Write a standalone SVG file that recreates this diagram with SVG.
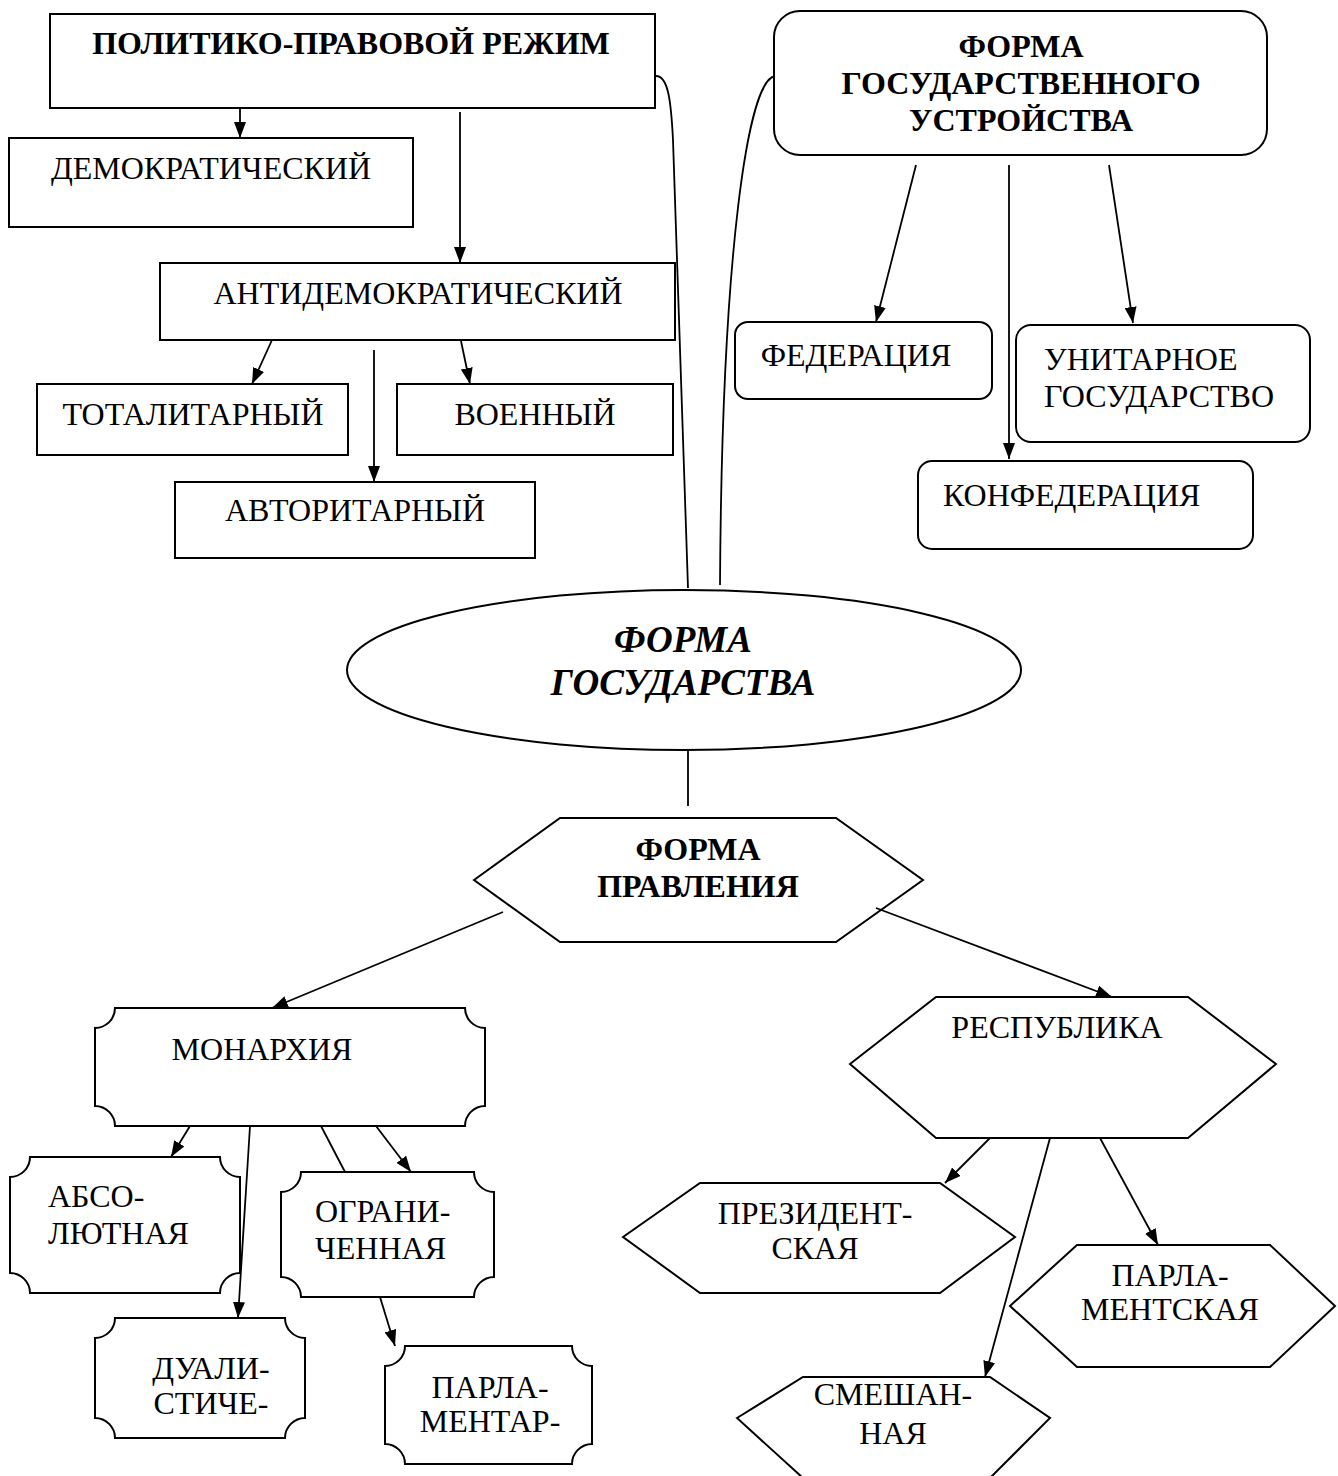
<svg xmlns="http://www.w3.org/2000/svg" width="1338" height="1476" viewBox="0 0 1338 1476">
<style>
.box{fill:#fff;stroke:#000;stroke-width:2}
.t{font-family:"Liberation Serif","Times New Roman",serif;font-size:32px;fill:#000}
.b{font-weight:bold}
.bi{font-weight:bold;font-style:italic;font-size:37px}
.m{text-anchor:middle}
.c{fill:none;stroke:#000;stroke-width:1.8}
.a{fill:none;stroke:#000;stroke-width:1.8;marker-end:url(#ah)}
</style>
<defs>
<marker id="ah" markerUnits="userSpaceOnUse" markerWidth="16" markerHeight="12" refX="16" refY="6" orient="auto">
<path d="M0,0 L16,6 L0,12 z" fill="#000"/>
</marker>
</defs>
<rect width="1338" height="1476" fill="#fff"/>

<g id="n-regime">
<rect class="box" x="50" y="14" width="605" height="94"/>
<text class="t b m" x="351" y="54">ПОЛИТИКО-ПРАВОВОЙ РЕЖИМ</text>
</g>
<g id="n-demo">
<rect class="box" x="9" y="138" width="404" height="89"/>
<text class="t m" x="211" y="179">ДЕМОКРАТИЧЕСКИЙ</text>
</g>
<g id="n-antidemo">
<rect class="box" x="160" y="263" width="515" height="77"/>
<text class="t m" x="418" y="304">АНТИДЕМОКРАТИЧЕСКИЙ</text>
</g>
<g id="n-total">
<rect class="box" x="37" y="384" width="311" height="71"/>
<text class="t m" x="193" y="425">ТОТАЛИТАРНЫЙ</text>
</g>
<g id="n-mil">
<rect class="box" x="397" y="384" width="276" height="71"/>
<text class="t m" x="535" y="425">ВОЕННЫЙ</text>
</g>
<g id="n-auth">
<rect class="box" x="175" y="482" width="360" height="76"/>
<text class="t m" x="355" y="521">АВТОРИТАРНЫЙ</text>
</g>

<g id="n-ustr">
<rect class="box" x="774" y="11" width="493" height="144" rx="26"/>
<text class="t b m" x="1021" y="57">ФОРМА</text>
<text class="t b m" x="1021" y="94">ГОСУДАРСТВЕННОГО</text>
<text class="t b m" x="1021" y="131">УСТРОЙСТВА</text>
</g>
<g id="n-fed">
<rect class="box" x="735" y="322" width="257" height="77" rx="13"/>
<text class="t m" x="856" y="366">ФЕДЕРАЦИЯ</text>
</g>
<g id="n-unit">
<rect class="box" x="1016" y="325" width="294" height="117" rx="15"/>
<text class="t" x="1044" y="370">УНИТАРНОЕ</text>
<text class="t" x="1044" y="407">ГОСУДАРСТВО</text>
</g>
<g id="n-conf">
<rect class="box" x="918" y="461" width="335" height="88" rx="14"/>
<text class="t" x="943" y="506">КОНФЕДЕРАЦИЯ</text>
</g>

<g id="n-state">
<ellipse class="box" cx="684" cy="670" rx="337" ry="80"/>
<text class="t bi m" x="683" y="652">ФОРМА</text>
<text class="t bi m" x="683" y="695">ГОСУДАРСТВА</text>
</g>

<g id="n-prav">
<polygon class="box" points="474,880 560,818 836,818 923,880 836,942 560,942"/>
<text class="t b m" x="698" y="860">ФОРМА</text>
<text class="t b m" x="698" y="897">ПРАВЛЕНИЯ</text>
</g>

<g id="n-mon">
<path class="box" d="M115,1008 H465 A20,20 0 0 0 485,1028 V1106 A20,20 0 0 0 465,1126 H115 A20,20 0 0 0 95,1106 V1028 A20,20 0 0 0 115,1008 Z"/>
<text class="t m" x="262" y="1060">МОНАРХИЯ</text>
</g>
<g id="n-abs">
<path class="box" d="M30,1157 H220 A20,20 0 0 0 240,1177 V1273 A20,20 0 0 0 220,1293 H30 A20,20 0 0 0 10,1273 V1177 A20,20 0 0 0 30,1157 Z"/>
<text class="t" x="48" y="1207">АБСО-</text>
<text class="t" x="48" y="1244">ЛЮТНАЯ</text>
</g>
<g id="n-lim">
<path class="box" d="M301,1172 H474 A20,20 0 0 0 494,1192 V1277 A20,20 0 0 0 474,1297 H301 A20,20 0 0 0 281,1277 V1192 A20,20 0 0 0 301,1172 Z"/>
<text class="t" x="315" y="1222">ОГРАНИ-</text>
<text class="t" x="315" y="1259">ЧЕННАЯ</text>
</g>
<g id="n-dual">
<path class="box" d="M115,1318 H285 A20,20 0 0 0 305,1338 V1418 A20,20 0 0 0 285,1438 H115 A20,20 0 0 0 95,1418 V1338 A20,20 0 0 0 115,1318 Z"/>
<text class="t m" x="211" y="1379">ДУАЛИ-</text>
<text class="t m" x="211" y="1414">СТИЧЕ-</text>
</g>
<g id="n-parlm">
<path class="box" d="M405,1346 H572 A20,20 0 0 0 592,1366 V1444 A20,20 0 0 0 572,1464 H405 A20,20 0 0 0 385,1444 V1366 A20,20 0 0 0 405,1346 Z"/>
<text class="t m" x="490" y="1398">ПАРЛА-</text>
<text class="t m" x="490" y="1432">МЕНТАР-</text>
</g>

<g id="n-rep">
<polygon class="box" points="850,1064 936,997 1188,997 1276,1064 1188,1138 936,1138"/>
<text class="t m" x="1057" y="1038">РЕСПУБЛИКА</text>
</g>
<g id="n-pres">
<polygon class="box" points="623,1237 700,1183 940,1183 1015,1237 940,1293 700,1293"/>
<text class="t m" x="815" y="1224">ПРЕЗИДЕНТ-</text>
<text class="t m" x="815" y="1259">СКАЯ</text>
</g>
<g id="n-parlr">
<polygon class="box" points="1010,1306 1077,1245 1270,1245 1335,1306 1270,1367 1077,1367"/>
<text class="t m" x="1170" y="1286">ПАРЛА-</text>
<text class="t m" x="1170" y="1320">МЕНТСКАЯ</text>
</g>
<g id="n-mix">
<polygon class="box" points="737,1418 803,1377 990,1377 1050,1418 990,1478 803,1478"/>
<text class="t m" x="893" y="1405">СМЕШАН-</text>
<text class="t m" x="893" y="1444">НАЯ</text>
</g>

<g id="connectors">
<line class="a" x1="240" y1="108" x2="240" y2="138"/>
<line class="a" x1="460" y1="112" x2="460" y2="263"/>
<line class="a" x1="272" y1="340" x2="252" y2="384"/>
<line class="a" x1="374" y1="350" x2="374" y2="482"/>
<line class="a" x1="461" y1="341" x2="470" y2="384"/>
<path class="c" d="M656,76 C668,76 671,100 673,140 L688,588"/>
<path class="c" d="M775,76 C748,80 722,250 720,585"/>
<line class="a" x1="916" y1="165" x2="876" y2="322"/>
<line class="a" x1="1009" y1="165" x2="1009" y2="459"/>
<line class="a" x1="1109" y1="165" x2="1133" y2="323"/>
<line class="c" x1="688" y1="750" x2="688" y2="806"/>
<line class="a" x1="503" y1="912" x2="272" y2="1008"/>
<line class="a" x1="876" y1="908" x2="1112" y2="997"/>
<line class="a" x1="190" y1="1126" x2="171" y2="1157"/>
<line class="a" x1="250" y1="1126" x2="238" y2="1318"/>
<line class="c" x1="321" y1="1126" x2="345" y2="1172"/>
<line class="a" x1="376" y1="1126" x2="411" y2="1172"/>
<line class="a" x1="380" y1="1297" x2="395" y2="1346"/>
<line class="a" x1="990" y1="1138" x2="945" y2="1183"/>
<line class="a" x1="1050" y1="1138" x2="985" y2="1377"/>
<line class="a" x1="1100" y1="1138" x2="1158" y2="1245"/>
</g>
</svg>
